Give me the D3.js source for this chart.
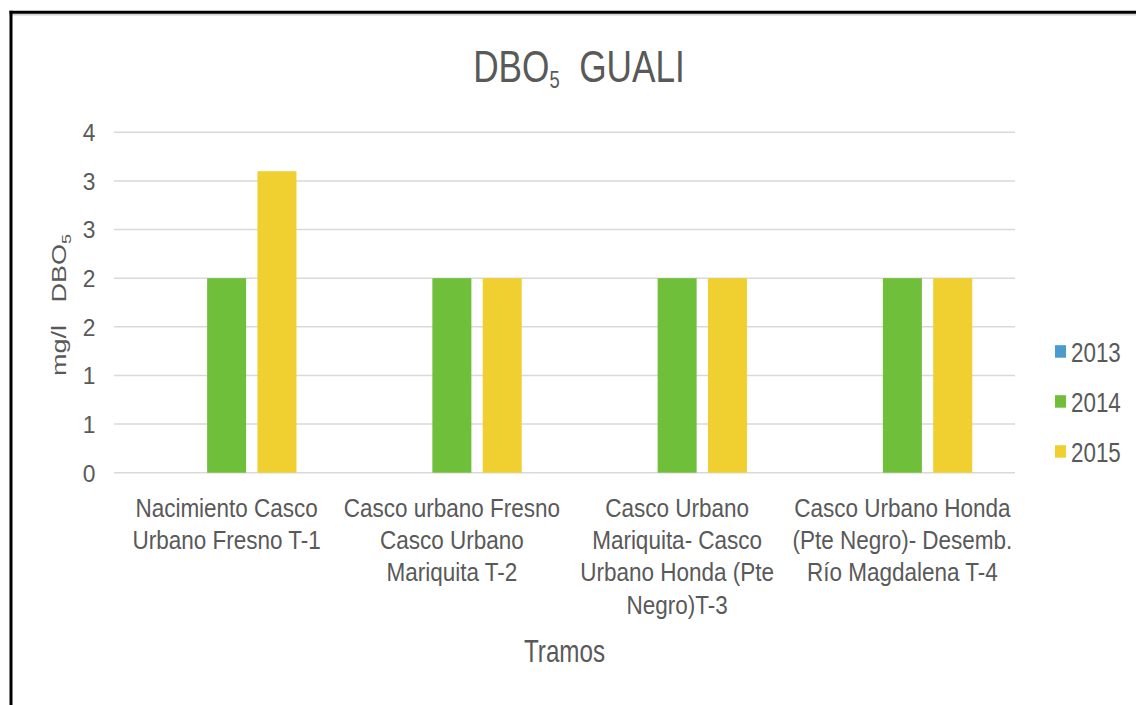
<!DOCTYPE html>
<html>
<head>
<meta charset="utf-8">
<script src="https://cdn.jsdelivr.net/npm/d3@7/dist/d3.min.js"></script>
<style>
  html, body { margin: 0; padding: 0; background: #fff; }
  svg { display: block; }
  text { font-family: "Liberation Sans", Arial, sans-serif; fill: #595959; }
</style>
</head>
<body>
<svg id="chart" width="1136" height="705"></svg>
<script>
// Stretches of the Gualí river (each label split into its wrapped lines)
const tramos = [
  ["Nacimiento Casco", "Urbano Fresno T-1"],
  ["Casco urbano Fresno", "Casco Urbano", "Mariquita T-2"],
  ["Casco Urbano", "Mariquita- Casco", "Urbano Honda (Pte", "Negro)T-3"],
  ["Casco Urbano Honda", "(Pte Negro)- Desemb.", "Río Magdalena T-4"]
];
const years = ["2013", "2014", "2015"];
// DBO5 in mg/l per stretch, one array per year
const dbo2013 = [null, null, null, null];
const dbo2014 = [2, 2, 2, 2];
const dbo2015 = [3.1, 2, 2, 2];
const yearColors = ["#4a9bce", "#70bf3a", "#f0d030"];
// Value axis: gridlines every 0.5, labels rounded to whole numbers
const yTicks = [0, 0.5, 1, 1.5, 2, 2.5, 3, 3.5];
const yTickLabels = ["0", "1", "1", "2", "2", "3", "3", "4"];

const series = [dbo2013, dbo2014, dbo2015];
const svg = d3.select("#chart");

const plot = { left: 114, right: 1015, top: 132.3, bottom: 472.7 };

const x0 = d3.scaleBand()
  .domain(d3.range(tramos.length))
  .range([plot.left, plot.right])
  .padding(0);

const x1 = d3.scaleBand()
  .domain(years)
  .range([0, x0.bandwidth()])
  .paddingInner(0.225)
  .paddingOuter(0.85);

const y = d3.scaleLinear()
  .domain([0, 3.5])
  .range([plot.bottom, plot.top]);

const color = d3.scaleOrdinal().domain(years).range(yearColors);

// Frame (top and left edges)
svg.append("line").attr("x1", 9.5).attr("x2", 1136).attr("y1", 14.8).attr("y2", 14.8)
  .attr("stroke", "#d4d4d4").attr("stroke-width", 1.5);
svg.append("line").attr("x1", 9.5).attr("x2", 1136).attr("y1", 12.2).attr("y2", 12.2)
  .attr("stroke", "#000").attr("stroke-width", 3);
svg.append("line").attr("x1", 11).attr("x2", 11).attr("y1", 10.7).attr("y2", 705)
  .attr("stroke", "#000").attr("stroke-width", 3);

// Gridlines
svg.append("g")
  .selectAll("line")
  .data(yTicks)
  .join("line")
  .attr("x1", plot.left)
  .attr("x2", plot.right)
  .attr("y1", d => y(d))
  .attr("y2", d => y(d))
  .attr("stroke", "#d9d9d9")
  .attr("stroke-width", 1.6);

// Y tick labels
svg.append("g")
  .selectAll("g")
  .data(yTicks)
  .join("g")
  .attr("transform", d => `translate(95.5,${y(d) + 8.8}) scale(0.95,1)`)
  .append("text")
  .attr("text-anchor", "end")
  .style("font-size", "24px")
  .text((d, i) => yTickLabels[i]);

// Bars
const groups = svg.append("g")
  .selectAll("g")
  .data(tramos.map((t, i) => i))
  .join("g")
  .attr("transform", i => `translate(${x0(i)},0)`);

groups.selectAll("rect")
  .data(i => years.map((yr, k) => ({ yr, v: series[k][i] })).filter(d => d.v != null))
  .join("rect")
  .attr("x", d => x1(d.yr))
  .attr("width", x1.bandwidth())
  .attr("y", d => y(d.v))
  .attr("height", d => y(0) - y(d.v))
  .attr("fill", d => color(d.yr));

// Category labels
const catLabels = svg.append("g")
  .selectAll("g")
  .data(tramos)
  .join("g")
  .attr("transform", (d, i) => `translate(${x0(i) + x0.bandwidth() / 2},516.5) scale(0.9,1)`)
  .append("text")
  .attr("text-anchor", "middle")
  .style("font-size", "25px");

catLabels.selectAll("tspan")
  .data(d => d)
  .join("tspan")
  .attr("x", 0)
  .attr("dy", (d, i) => i === 0 ? 0 : 32.4)
  .text(d => d);

// Axis title (x)
svg.append("g")
  .attr("transform", `translate(${(plot.left + plot.right) / 2},661.5) scale(0.78,1)`)
  .append("text")
  .attr("text-anchor", "middle")
  .style("font-size", "31px")
  .text("Tramos");

// Axis title (y)
const yTitle = svg.append("g")
  .attr("transform", "translate(65.5,305) scale(0.75,1) rotate(-90)")
  .append("text")
  .attr("text-anchor", "middle")
  .style("font-size", "27px")
  .style("white-space", "pre");
yTitle.append("tspan").text("mg/l   DBO");
yTitle.append("tspan").attr("dy", 7).style("font-size", "18px").text("5");

// Chart title
const title = svg.append("g")
  .attr("transform", "translate(579,81.7) scale(0.8,1)")
  .append("text")
  .attr("text-anchor", "middle")
  .style("font-size", "44px")
  .style("white-space", "pre");
title.append("tspan").text("DBO");
title.append("tspan").attr("dy", 6.6).style("font-size", "23px").text("5");
title.append("tspan").attr("dy", -6.6).text("  GUALI");

// Legend
const legend = svg.append("g")
  .selectAll("g")
  .data(years)
  .join("g")
  .attr("transform", (d, i) => `translate(1055,${361.7 + i * 50})`);

legend.append("rect")
  .attr("x", 0)
  .attr("y", -16.5)
  .attr("width", 11)
  .attr("height", 12.5)
  .attr("fill", d => color(d));

legend.append("g")
  .attr("transform", "translate(16,0) scale(0.8,1)")
  .append("text")
  .style("font-size", "28px")
  .text(d => d);
</script>
</body>
</html>
